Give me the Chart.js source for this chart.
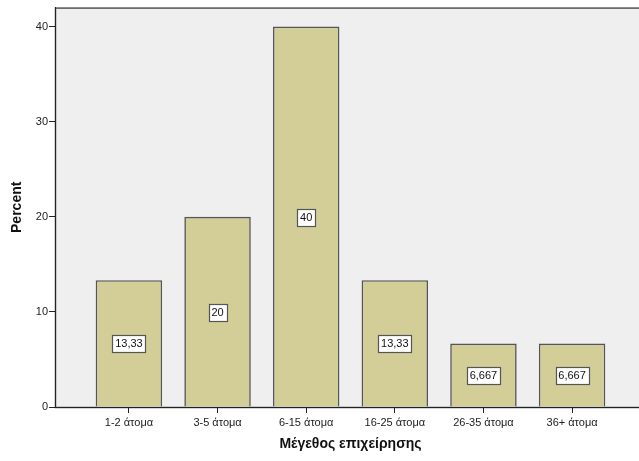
<!DOCTYPE html>
<html>
<head>
<meta charset="utf-8">
<script src="https://cdn.jsdelivr.net/npm/chart.js@4/dist/chart.umd.min.js"></script>
<style>
html,body{margin:0;padding:0;background:#fff;overflow:hidden;width:639px;height:461px;}
#wrap{width:660px;height:461px;}
</style>
</head>
<body>
<div id="wrap"><canvas id="c" width="660" height="461"></canvas></div>
<script>
const categories = ["1-2 άτομα","3-5 άτομα","6-15 άτομα","16-25 άτομα","26-35 άτομα","36+ άτομα"];
const percents = [13.333, 20, 40, 13.333, 6.667, 6.667];
const valueLabels = ["13,33","20","40","13,33","6,667","6,667"];
const yTicks = [0, 10, 20, 30, 40];

const FONT = "'Liberation Sans', Arial, sans-serif";

const bgPlugin = {
  id: 'bg',
  beforeDraw(chart) {
    const {ctx, chartArea: a} = chart;
    ctx.save();
    ctx.fillStyle = '#EFEFEF';
    ctx.fillRect(a.left, a.top, a.right - a.left, a.bottom - a.top);
    ctx.strokeStyle = '#555';
    ctx.lineWidth = 1.5;
    ctx.strokeRect(a.left + 0.5, a.top + 0.5, a.right - a.left, a.bottom - a.top);
    ctx.restore();
  }
};

const labelPlugin = {
  id: 'vlabels',
  afterDatasetsDraw(chart) {
    const {ctx} = chart;
    const meta = chart.getDatasetMeta(0);
    ctx.save();
    ctx.font = '11px ' + FONT;
    ctx.textAlign = 'center';
    ctx.textBaseline = 'middle';
    meta.data.forEach((el, i) => {
      const txt = valueLabels[i];
      const cx = el.x;
      const cy = Math.round((el.y + el.base) / 2);
      const w = Math.ceil(ctx.measureText(txt).width) + 5;
      const h = 17;
      const x0 = Math.round(cx - w / 2) + 0.5;
      const y0 = Math.round(cy - h / 2) + 0.5;
      ctx.fillStyle = '#fff';
      ctx.fillRect(x0, y0, w, h);
      ctx.strokeStyle = '#555';
      ctx.lineWidth = 1.2;
      ctx.strokeRect(x0, y0, w, h);
      ctx.fillStyle = '#111';
      ctx.fillText(txt, cx, cy + 1);
    });
    ctx.restore();
  }
};

new Chart(document.getElementById('c'), {
  type: 'bar',
  data: {
    datasets: [{
      data: percents.map((v, i) => ({x: i, y: v})),
      backgroundColor: '#D3CE98',
      borderColor: '#555',
      borderWidth: 1.6,
      categoryPercentage: 1,
      barPercentage: 0.75
    }]
  },
  options: {
    responsive: false,
    animation: false,
    layout: {padding: {left: 0, right: 14, top: 4, bottom: 8}},
    plugins: {legend: {display: false}, tooltip: {enabled: false}},
    scales: {
      x: {
        type: 'linear',
        offset: false,
        min: -0.834,
        max: 5.834,
        afterBuildTicks: s => { s.ticks = categories.map((c, i) => ({value: i})); },
        afterFit: s => { s.height = 46; },
        ticks: {
          autoSkip: false,
          maxRotation: 0,
          padding: 3,
          color: '#222',
          font: {family: FONT, size: 11},
          callback: v => categories[v]
        },
        grid: {offset: false, drawOnChartArea: false, drawTicks: true, tickLength: 6, color: '#222'},
        border: {color: '#222', width: 1},
        title: {display: true, text: 'Μέγεθος επιχείρησης', color: '#111', padding: {top: 0, bottom: 0}, font: {family: FONT, size: 14, weight: 'bold'}}
      },
      y: {
        type: 'linear',
        min: 0,
        max: 42,
        afterBuildTicks: s => { s.ticks = yTicks.map(v => ({value: v})); },
        afterFit: s => { s.width = 55; },
        ticks: {
          padding: 1,
          color: '#222',
          font: {family: FONT, size: 11}
        },
        grid: {drawOnChartArea: false, drawTicks: true, tickLength: 6, color: '#222'},
        border: {color: '#222', width: 1},
        title: {display: true, text: 'Percent', color: '#111', padding: {top: 9, bottom: 0}, font: {family: FONT, size: 14, weight: 'bold'}}
      }
    }
  },
  plugins: [bgPlugin, labelPlugin]
});
</script>
</body>
</html>
